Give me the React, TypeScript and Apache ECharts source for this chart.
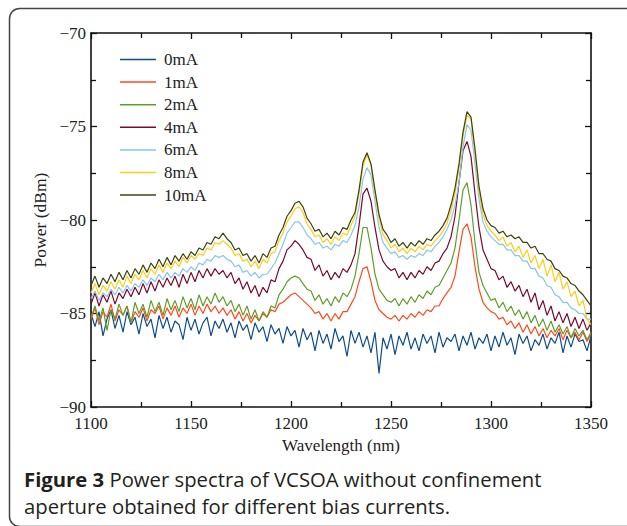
import React, { useEffect, useRef } from "react";
import * as echarts from "echarts";

const WAVELENGTH = [
  1100, 1102, 1104, 1106, 1108, 1110, 1112, 1114, 1116, 1118,
  1120, 1122, 1124, 1126, 1128, 1130, 1132, 1134, 1136, 1138,
  1140, 1142, 1144, 1146, 1148, 1150, 1152, 1154, 1156, 1158,
  1160, 1162, 1164, 1166, 1168, 1170, 1172, 1174, 1176, 1178,
  1180, 1182, 1184, 1186, 1188, 1190, 1192, 1194, 1196, 1198,
  1200, 1202, 1204, 1206, 1208, 1210, 1212, 1214, 1216, 1218,
  1220, 1222, 1224, 1226, 1228, 1230, 1232, 1234, 1236, 1238,
  1240, 1242, 1244, 1246, 1248, 1250, 1252, 1254, 1256, 1258,
  1260, 1262, 1264, 1266, 1268, 1270, 1272, 1274, 1276, 1278,
  1280, 1282, 1284, 1286, 1288, 1290, 1292, 1294, 1296, 1298,
  1300, 1302, 1304, 1306, 1308, 1310, 1312, 1314, 1316, 1318,
  1320, 1322, 1324, 1326, 1328, 1330, 1332, 1334, 1336, 1338,
  1340, 1342, 1344, 1346, 1348, 1350,
];

const P_0MA = [
  -85.0, -85.7, -84.9, -86.2, -85.3, -84.8, -85.8, -85.1, -86.0, -84.9,
  -85.6, -85.2, -86.1, -85.0, -85.7, -85.3, -86.3, -85.1, -85.8, -85.2,
  -86.0, -85.4, -85.6, -86.4, -85.2, -85.9, -85.3, -86.1, -85.5, -85.2,
  -86.2, -85.4, -85.8, -85.3, -86.0, -85.5, -86.3, -85.4, -85.9, -85.6,
  -86.4, -85.5, -86.0, -85.7, -86.5, -85.6, -86.1, -85.8, -86.6, -85.7,
  -86.2, -85.9, -86.8, -85.8, -86.4, -86.0, -87.0, -85.9, -86.6, -86.1,
  -86.9, -85.8, -86.5, -86.2, -87.3, -85.9, -86.6, -86.0, -86.8, -86.2,
  -87.1, -86.0, -88.2, -86.3, -86.9, -86.1, -87.2, -86.2, -86.7, -86.0,
  -86.9, -86.3, -87.0, -86.1, -86.6, -86.2, -87.1, -86.0, -86.8, -86.3,
  -86.5, -86.1, -87.0, -86.2, -86.7, -86.0, -86.9, -86.3, -86.6, -86.1,
  -87.0, -86.2, -86.8, -86.0, -86.7, -86.3, -87.2, -86.1, -86.6, -86.2,
  -87.0, -86.4, -86.7, -86.1, -86.9, -86.3, -86.6, -86.0, -87.1, -86.2,
  -86.8, -86.1, -86.5, -86.4, -87.0, -86.2,
];

const P_1MA = [
  -85.3, -84.7, -85.6, -84.9, -85.2, -84.5, -85.4, -84.8, -85.1, -84.6,
  -85.5, -84.9, -85.2, -84.7, -85.4, -84.8, -85.0, -84.6, -85.3, -84.7,
  -85.1, -84.6, -85.2, -84.7, -85.0, -84.5, -85.1, -84.6, -85.0, -84.5,
  -84.9, -84.6, -85.0, -84.7, -85.1, -84.8, -85.3, -84.9, -85.4, -85.0,
  -85.5, -85.1, -85.4, -85.0, -85.2, -84.8, -84.9, -84.5, -84.4, -84.2,
  -84.0, -83.9, -84.1, -84.3, -84.5, -84.7, -85.0, -84.9, -85.3, -85.0,
  -85.4, -85.0, -85.3, -84.9, -84.9, -84.5, -84.1, -83.3, -82.6, -82.5,
  -83.3, -84.3, -84.8, -85.0, -85.2, -85.3, -85.1, -85.4, -85.1, -85.3,
  -85.0, -85.2, -84.9, -85.1, -84.8, -84.9, -84.6, -84.6, -84.2, -83.9,
  -83.6, -83.0, -81.7, -80.5, -80.2, -80.9, -82.5, -83.7, -84.4, -84.7,
  -84.9, -85.0, -85.3, -85.2, -85.6, -85.4, -85.8, -85.5, -86.0, -85.6,
  -86.1, -85.7, -86.2, -85.8, -86.3, -85.9, -86.2, -85.8, -86.4, -85.9,
  -86.3, -86.0, -86.4, -86.0, -86.5, -86.1,
];

const P_2MA = [
  -85.2, -84.6, -85.4, -84.7, -85.9, -84.8, -85.3, -84.5, -85.1, -84.6,
  -85.5, -84.4, -85.0, -84.5, -85.2, -84.3, -84.9, -84.4, -85.1, -84.2,
  -84.8, -84.3, -84.9, -84.1, -84.7, -84.2, -84.8, -84.0, -84.6, -84.1,
  -84.5, -83.9, -84.4, -84.1, -84.6, -84.3, -84.9, -84.5, -85.1, -84.6,
  -85.3, -84.8, -85.4, -84.9, -85.2, -84.6, -84.7, -84.0, -83.7, -83.3,
  -83.1, -83.0, -83.1, -83.4, -83.7, -83.8, -84.3, -84.0, -84.5, -84.2,
  -84.6, -84.1, -84.4, -83.9, -84.1, -83.7, -83.0, -81.8, -80.4, -80.4,
  -81.5, -82.9, -83.7, -84.0, -84.3, -84.4, -84.2, -84.6, -84.2, -84.5,
  -84.1, -84.4, -84.0, -84.2, -83.8, -84.0, -83.6, -83.5, -83.1, -82.7,
  -82.3, -81.5, -80.0, -78.4, -78.0, -79.2, -81.2, -82.8, -83.5, -83.9,
  -84.3, -84.2, -84.7, -84.4, -84.9, -84.6, -85.1, -84.8, -85.3, -84.9,
  -85.5, -85.1, -85.7, -85.3, -85.9, -85.4, -86.0, -85.6, -86.1, -85.7,
  -86.3, -85.8, -86.2, -85.9, -86.4, -86.0,
];

const P_4MA = [
  -84.5, -83.9, -84.6, -84.0, -84.4, -83.8, -84.5, -83.9, -84.2, -83.7,
  -84.1, -83.6, -84.0, -83.4, -83.9, -83.3, -83.8, -83.2, -83.6, -83.1,
  -83.5, -83.0, -83.6, -82.9, -83.4, -82.8, -83.3, -82.7, -83.1, -82.6,
  -83.0, -82.6, -82.9, -82.7, -83.1, -82.8, -83.4, -83.1, -83.7, -83.3,
  -83.9, -83.5, -84.1, -83.6, -83.9, -83.2, -83.3, -82.6, -82.2, -81.6,
  -81.4, -81.1, -81.3, -81.6, -82.0, -82.1, -82.7, -82.4, -83.0, -82.7,
  -83.2, -82.8, -83.1, -82.6, -82.8, -82.4, -81.8, -80.3, -78.6, -78.3,
  -79.0, -80.4, -81.6, -82.2, -82.5, -82.7, -82.6, -83.1, -82.8, -83.2,
  -82.8, -83.1, -82.7, -82.9, -82.5, -82.7, -82.3, -82.2, -81.8, -81.5,
  -80.9, -79.8, -78.0, -76.3, -75.8, -76.6, -78.6, -80.4, -81.6, -82.1,
  -82.6, -82.7, -83.2, -83.0, -83.6, -83.3, -83.8, -83.5, -84.1, -83.7,
  -84.4, -83.9, -84.8, -84.3, -85.1, -84.6, -85.4, -84.9, -85.5, -85.0,
  -85.7, -85.2, -85.8, -85.3, -85.9, -85.5,
];

const P_6MA = [
  -84.2, -83.8, -84.3, -83.9, -84.1, -83.7, -84.0, -83.6, -83.9, -83.5,
  -83.8, -83.4, -83.6, -83.2, -83.5, -83.1, -83.3, -82.9, -83.2, -82.8,
  -83.1, -82.8, -83.0, -82.6, -82.8, -82.5, -82.7, -82.3, -82.4, -82.1,
  -82.2, -81.9, -82.0, -81.9, -82.1, -82.2, -82.5, -82.4, -82.8, -82.7,
  -83.0, -82.8, -83.1, -82.9, -82.9, -82.6, -82.3, -81.8, -81.3, -80.7,
  -80.4, -80.1, -80.1, -80.4, -80.8, -81.0, -81.3, -81.2, -81.5, -81.4,
  -81.6, -81.3, -81.4, -81.1, -81.2, -80.8, -80.3, -79.3, -77.8, -77.2,
  -77.6, -79.0, -80.4, -81.2, -81.5, -81.8, -81.7, -82.0, -81.9, -82.1,
  -81.9, -82.0, -81.8, -81.9, -81.6, -81.7, -81.4, -81.2, -80.9, -80.5,
  -80.0, -79.2, -78.0, -76.1, -74.9, -75.2, -77.0, -78.9, -80.1, -80.6,
  -80.9, -81.1, -81.3, -81.3, -81.6, -81.6, -81.9, -81.9, -82.2, -82.2,
  -82.6, -82.6, -83.0, -83.1, -83.5, -83.6, -84.0, -84.1, -84.4, -84.4,
  -84.7, -84.8, -85.0, -85.0, -85.3, -85.3,
];

const P_8MA = [
  -83.9, -83.4, -84.0, -83.5, -83.8, -83.3, -83.7, -83.2, -83.6, -83.0,
  -83.4, -82.9, -83.2, -82.7, -83.1, -82.6, -82.9, -82.4, -82.8, -82.3,
  -82.6, -82.2, -82.5, -82.0, -82.3, -81.9, -82.1, -81.8, -81.9, -81.5,
  -81.6, -81.2, -81.3, -81.1, -81.3, -81.5, -81.9, -81.8, -82.2, -82.1,
  -82.5, -82.2, -82.6, -82.1, -82.3, -81.8, -81.7, -81.1, -80.7, -80.1,
  -79.8, -79.4, -79.3, -79.6, -80.2, -80.5, -80.9, -80.8, -81.2, -81.0,
  -81.3, -80.9, -81.1, -80.7, -80.8, -80.3, -79.8, -78.6, -77.1, -76.5,
  -77.1, -78.6, -79.9, -80.8, -81.1, -81.5, -81.3, -81.7, -81.5, -81.8,
  -81.5, -81.7, -81.4, -81.6, -81.3, -81.4, -81.1, -80.9, -80.6, -80.2,
  -79.5, -78.6, -77.2, -75.5, -74.4, -74.6, -76.5, -78.5, -79.7, -80.3,
  -80.6, -80.8, -81.1, -80.9, -81.4, -81.2, -81.7, -81.4, -82.0, -81.6,
  -82.3, -81.9, -82.6, -82.1, -83.0, -82.4, -83.3, -82.8, -83.7, -83.3,
  -84.1, -83.8, -84.6, -84.3, -85.3, -85.6,
];

const P_10MA = [
  -83.5, -83.0, -83.6, -83.1, -83.4, -82.9, -83.3, -82.8, -83.2, -82.7,
  -83.1, -82.6, -82.9, -82.4, -82.8, -82.3, -82.6, -82.1, -82.5, -82.0,
  -82.4, -81.9, -82.2, -81.8, -82.1, -81.7, -81.9, -81.5, -81.6, -81.2,
  -81.3, -80.9, -81.0, -80.7, -81.0, -81.2, -81.6, -81.5, -81.9, -81.8,
  -82.2, -81.9, -82.3, -81.8, -82.0, -81.5, -81.4, -80.8, -80.4, -79.8,
  -79.5, -79.1, -79.0, -79.3, -79.9, -80.2, -80.6, -80.5, -80.9, -80.7,
  -81.0, -80.6, -80.8, -80.4, -80.5, -80.0, -79.6, -78.4, -76.9, -76.4,
  -77.0, -78.4, -79.7, -80.5, -80.8, -81.2, -81.0, -81.4, -81.2, -81.5,
  -81.2, -81.4, -81.1, -81.3, -81.0, -81.1, -80.8, -80.6, -80.3, -79.9,
  -79.2, -78.3, -77.0, -75.3, -74.2, -74.5, -76.2, -78.2, -79.4, -80.0,
  -80.3, -80.4, -80.7, -80.6, -80.9, -80.8, -81.0, -80.9, -81.2, -81.2,
  -81.5, -81.4, -81.8, -81.8, -82.1, -82.2, -82.6, -82.7, -83.0, -83.1,
  -83.4, -83.5, -83.8, -84.0, -84.3, -84.6,
];

const SERIES_NAMES = ["0mA", "1mA", "2mA", "4mA", "6mA", "8mA", "10mA"];
const SERIES_VALUES = [P_0MA, P_1MA, P_2MA, P_4MA, P_6MA, P_8MA, P_10MA];
const SERIES_COLORS = ["#0f4c8c", "#ff4a1c", "#5e9f2c", "#7a0a2c", "#86c5f2", "#ffcc1a", "#3a4510"];

const X_TITLE = "Wavelength (nm)";
const Y_TITLE = "Power (dBm)";
const CAPTION_BOLD = "Figure 3";
const CAPTION_LINE1 = " Power spectra of VCSOA without confinement";
const CAPTION_LINE2 = "aperture obtained for different bias currents.";

const SERIF = "'Liberation Serif', 'DejaVu Serif', serif";
const SANS = "'Open Sans', 'Noto Sans', sans-serif";

export default function App() {
  const ref = useRef<HTMLDivElement>(null);

  useEffect(() => {
    if (!ref.current) return;
    const chart = echarts.init(ref.current, undefined, { renderer: "svg" });

    const axisCommon = {
      type: "value" as const,
      axisLine: { show: true, onZero: false, lineStyle: { color: "#111", width: 1.6 } },
      axisTick: { show: true, inside: true, length: 6, lineStyle: { color: "#111", width: 1.3 } },
      minorTick: { show: true, splitNumber: 2, length: 5, lineStyle: { color: "#111", width: 1.3 } },
      splitLine: { show: false },
      minorSplitLine: { show: false },
    };

    const option: any = {
      animation: false,
      backgroundColor: "#ffffff",
      grid: { left: 91, top: 33, right: 36, bottom: 119, containLabel: false },
      legend: {
        show: true,
        orient: "vertical",
        left: 115,
        top: 46,
        icon: "rect",
        itemWidth: 36,
        itemHeight: 1.5,
        itemGap: 5.6,
        textStyle: { fontFamily: SERIF, fontSize: 17, color: "#222", padding: [0, 0, 0, 3] },
        data: SERIES_NAMES,
      },
      xAxis: [
        {
          ...axisCommon,
          position: "bottom",
          min: 1100,
          max: 1350,
          interval: 50,
          name: X_TITLE,
          nameLocation: "middle",
          nameGap: 25,
          nameTextStyle: { fontFamily: SERIF, fontSize: 17, color: "#222" },
          axisLabel: {
            show: true,
            fontFamily: SERIF,
            fontSize: 17,
            color: "#222",
            margin: 8,
            formatter: (v: number) => String(v),
          },
        },
        {
          ...axisCommon,
          position: "top",
          min: 1100,
          max: 1350,
          interval: 50,
          axisLabel: { show: false },
        },
      ],
      yAxis: [
        {
          ...axisCommon,
          position: "left",
          min: -90,
          max: -70,
          interval: 5,
          name: Y_TITLE,
          nameLocation: "middle",
          nameGap: 38,
          nameRotate: 90,
          nameTextStyle: { fontFamily: SERIF, fontSize: 17.5, color: "#222" },
          axisLabel: {
            show: true,
            fontFamily: SERIF,
            fontSize: 17,
            color: "#222",
            margin: 5,
            formatter: (v: number) => String(v).replace("-", "\u2212"),
          },
        },
        {
          ...axisCommon,
          position: "right",
          min: -90,
          max: -70,
          interval: 5,
          axisLabel: { show: false },
        },
      ],
      series: SERIES_NAMES.map((name, k) => ({
        name,
        type: "line",
        xAxisIndex: 0,
        yAxisIndex: 0,
        showSymbol: false,
        symbol: "none",
        color: SERIES_COLORS[k],
        lineStyle: { width: 1.2, color: SERIES_COLORS[k] },
        data: WAVELENGTH.map((w, i) => [w, SERIES_VALUES[k][i]]),
      })),
      graphic: [
        {
          type: "rect",
          shape: { x: 9.5, y: 8.5, width: 640, height: 518, r: 10 },
          style: { fill: "none", stroke: "#444", lineWidth: 1.5 },
          silent: true,
        },
        {
          type: "text",
          left: 24,
          top: 469,
          style: {
            text: "{b|" + CAPTION_BOLD + "}{n|" + CAPTION_LINE1 + "}",
            rich: {
              b: { fontFamily: SANS, fontSize: 20.3, lineHeight: 22, fontWeight: "bold", fill: "#231f20" },
              n: { fontFamily: SANS, fontSize: 20.3, lineHeight: 22, fontWeight: "normal", fill: "#231f20" },
            },
          },
        },
        {
          type: "text",
          left: 24,
          top: 495,
          style: {
            text: CAPTION_LINE2,
            fontFamily: SANS,
            fontSize: 20.3,
            lineHeight: 22,
            fill: "#231f20",
          },
        },
      ],
    };

    chart.setOption(option);
    return () => chart.dispose();
  }, []);

  return (
    <div
      ref={ref}
      style={{ position: "absolute", left: 0, top: 0, width: 627, height: 526, background: "#fff" }}
    />
  );
}
